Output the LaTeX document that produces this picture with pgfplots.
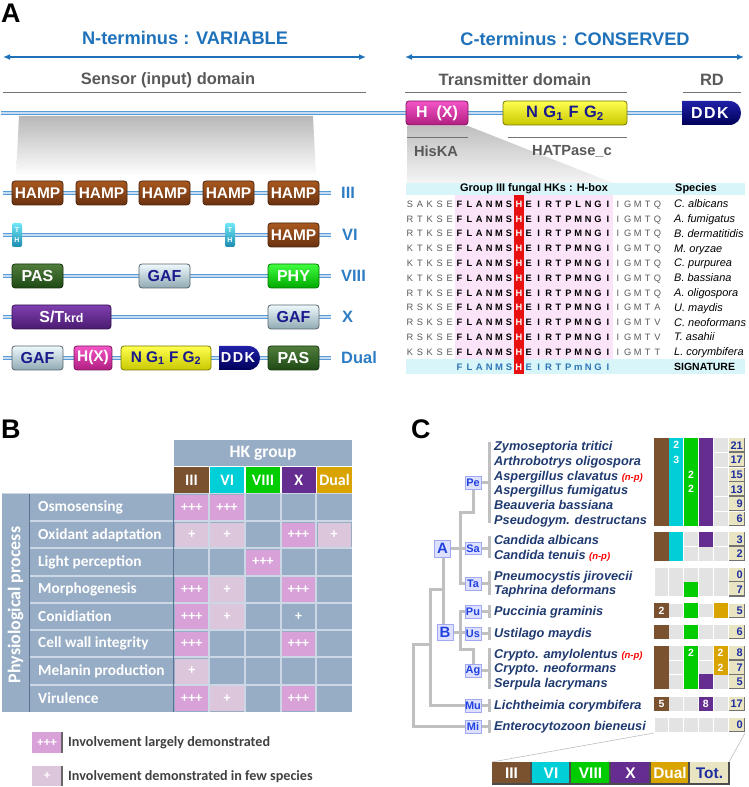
\documentclass[border=0pt]{standalone}
\usepackage{pgfplots}
\pgfplotsset{compat=1.18}
\usetikzlibrary{arrows.meta}
\usepackage{fontspec}
\setmainfont{Liberation Sans}
\newfontfamily\calibri{Carlito}
\newcommand\fs[1]{\fontsize{#1}{#1}\selectfont}
% colours
\definecolor{ablue}{HTML}{1F72BA}
\definecolor{lblue}{HTML}{2E7DC4}
\definecolor{dgray}{HTML}{595959}
\definecolor{bbE}{HTML}{5B9BD5}
\definecolor{bbF}{HTML}{C5DDF2}
\definecolor{hampA}{HTML}{A8581F}\definecolor{hampB}{HTML}{6A3210}
\definecolor{gafA}{HTML}{EEF9FC}\definecolor{gafB}{HTML}{8FA9B3}
\definecolor{pasA}{HTML}{507E3C}\definecolor{pasB}{HTML}{1E4814}
\definecolor{phyA}{HTML}{40FF40}\definecolor{phyB}{HTML}{00A800}
\definecolor{stA}{HTML}{8040B0}\definecolor{stB}{HTML}{4A1A70}
\definecolor{hxA}{HTML}{F455C8}\definecolor{hxB}{HTML}{B01E80}
\definecolor{ngA}{HTML}{FFFF50}\definecolor{ngB}{HTML}{C8C800}
\definecolor{ddkA}{HTML}{2020A8}\definecolor{ddkB}{HTML}{000058}
\definecolor{tmA}{HTML}{70E8F8}\definecolor{tmB}{HTML}{1C8CB0}
\definecolor{navytx}{HTML}{1A1A8C}
\definecolor{tblbg}{HTML}{97ADC5}
\definecolor{tblln}{HTML}{CBD7E4}
\definecolor{tbldk}{HTML}{5A7391}
\definecolor{pkA}{HTML}{D8A2D8}
\definecolor{pkB}{HTML}{DCC6DC}
\definecolor{gIII}{HTML}{7B5230}
\definecolor{gVI}{HTML}{00CFD8}
\definecolor{gVIII}{HTML}{00CC00}
\definecolor{gX}{HTML}{662D91}
\definecolor{gDual}{HTML}{D9A300}
\definecolor{cempty}{HTML}{E3E3E3}
\definecolor{ctot}{HTML}{E9E5C3}
\definecolor{cnavy}{HTML}{1F3A70}
\definecolor{totnum}{HTML}{1E2FA0}
\definecolor{nodeF}{HTML}{DDE1FF}
\definecolor{nodeB}{HTML}{A0A8F0}
\definecolor{nodeT}{HTML}{2040E0}
\definecolor{treeG}{HTML}{C0C0C0}
\definecolor{pinkbg}{HTML}{FBE3F8}
\definecolor{redH}{HTML}{E81010}
\definecolor{cyanb}{HTML}{D8F6FA}
\definecolor{sigblue}{HTML}{2E75B6}
% plot marks
\pgfdeclareplotmark{cellB}{\pgfpathrectangle{\pgfqpoint{-16.6bp}{-12.4bp}}{\pgfqpoint{33.2bp}{24.8bp}}\pgfusepathqfill}
\pgfdeclareplotmark{cellC}{\pgfpathrectangle{\pgfqpoint{-6.9bp}{-6.9bp}}{\pgfqpoint{13.8bp}{13.8bp}}\pgfusepathqfill}
\pgfdeclareplotmark{cellCc}{\pgfpathrectangle{\pgfqpoint{-7.1bp}{-7.4bp}}{\pgfqpoint{14.2bp}{14.8bp}}\pgfusepathqfill}
\pgfdeclareplotmark{totC}{%
  \pgfsetfillcolor{ctot}\pgfpathrectangle{\pgfqpoint{-7.8bp}{-6.9bp}}{\pgfqpoint{15.6bp}{13.8bp}}\pgfusepathqfill
  \pgfsetstrokecolor{black!55}\pgfsetlinewidth{1.3bp}%
  \pgfpathmoveto{\pgfqpoint{7.6bp}{6.9bp}}\pgfpathlineto{\pgfqpoint{7.6bp}{-6.7bp}}\pgfpathlineto{\pgfqpoint{-7.8bp}{-6.7bp}}\pgfusepathqstroke}
% domain box
\newcommand\dom[9]{%
  \shade[top color=#4,bottom color=#5,rounded corners=3bp] (#1,#3-12) rectangle (#2,#3+12);
  \draw[#6,line width=0.8bp,rounded corners=3bp] (#1,#3-12) rectangle (#2,#3+12);
  \node[text=#7,font=\bfseries\fs{#8},inner sep=0pt] at ({(#1+#2)/2},#3) {#9};}
\newcommand\ddk[4]{%
  \shade[top color=ddkA,bottom color=ddkB] (#1,#3-12) -- (#2-15,#3-12) .. controls (#2+1,#3-12) and (#2+1,#3+12) .. (#2-15,#3+12) -- (#1,#3+12) -- cycle;
  \node[text=white,font=\bfseries\fs{#4},inner sep=0pt] at ({(#1+#2)/2-3},#3) {D\kern1.5bp D\kern1.5bp K};}
\newcommand\tm[2]{%
  \shade[top color=tmA,bottom color=tmB,rounded corners=2bp] (#1,#2-12) rectangle (#1+10,#2+12);
  \node[text=white,font=\bfseries\fs{7},inner sep=0pt] at (#1+5,#2-5) {T};
  \node[text=white,font=\bfseries\fs{7},inner sep=0pt] at (#1+5,#2+5) {H};}
\newcommand\bb[3]{\draw[bbE,line width=4bp] (#1,#3)--(#2,#3);\draw[bbF,line width=1.6bp] (#1,#3)--(#2,#3);}

\begin{document}
\begin{tikzpicture}
\useasboundingbox (0,0) rectangle (749bp,787bp);
\clip (0,0) rectangle (749bp,787bp);
% ---------------- backgrounds
\begin{scope}[x=1bp,y=-1bp,shift={(0bp,787bp)}]
 \shade[top color=black!28,bottom color=white] (19,116)--(313,116)--(316,176)--(16,176)--cycle;
 \shade[top color=black!25,bottom color=black!4] (407,126)--(468,126)--(613,183)--(407,183)--cycle;
 \fill[cyanb] (406,183) rectangle (745,195);
 \fill[cyanb] (406,359) rectangle (745,374);
 \fill[pinkbg] (455,195) rectangle (613,359);
 \fill[redH] (514,195) rectangle (524,374);
 \fill[tblbg] (174,440) rectangle (352,466);
 \fill[tblbg] (2,494) rectangle (352,712);
 \foreach \k in {1,...,7} {\draw[tblln,line width=2bp] (30,494+27.25*\k)--(352,494+27.25*\k);}
 \foreach \xx in {209.3,245,281,316.3} {\draw[tblln,line width=2bp] (\xx,494)--(\xx,712);}
 \draw[tbldk,line width=1.6bp] (29.5,494)--(29.5,712);
 \draw[tbldk,line width=1.6bp] (173.5,494)--(173.5,712);
 \draw[tblln,line width=1bp] (2,494)--(352,494);
 \foreach \xa/\xb/\col in {174.3/208.6/gIII,210/244.3/gVI,245.7/280.3/gVIII,281.7/315.6/gX,317/352/gDual}
   {\fill[\col] (\xa,467) rectangle (\xb,493);}
 \draw[black!25,line width=0.6bp] (654,733)--(492,762);
 \draw[black!25,line width=0.6bp] (745,733)--(729,762);
\end{scope}
% ---------------- data drawn through the axis
\begin{axis}[at={(0,0)},anchor=south west,width=749bp,height=787bp,scale only axis,
  xmin=0,xmax=749,ymin=0,ymax=787,y dir=reverse,hide axis,clip=false]
 \addplot[only marks,mark=cellB,color=pkA,nodes near coords,point meta=explicit symbolic,
   every node near coord/.append style={anchor=center,text=white,font=\calibri\bfseries\fs{14}}]
   coordinates {(191.8,507.6)[+++] (227,507.6)[+++] (298.5,534.9)[+++] (263,562.1)[+++]
   (191.8,589.4)[+++] (298.5,589.4)[+++] (191.8,616.6)[+++] (191.8,643.9)[+++] (298.5,643.9)[+++]
   (191.8,698.4)[+++] (298.5,698.4)[+++]};
 \addplot[only marks,mark=cellB,color=pkB,nodes near coords,point meta=explicit symbolic,
   every node near coord/.append style={anchor=center,text=white,font=\calibri\bfseries\fs{14}}]
   coordinates {(191.8,534.9)[+] (227,534.9)[+] (334.2,534.9)[+] (227,589.4)[+] (227,616.6)[+]
   (191.8,671.1)[+] (227,698.4)[+]};
 \addplot[draw=none,nodes near coords,point meta=explicit symbolic,
   every node near coord/.append style={anchor=center,text=white,font=\calibri\bfseries\fs{14}}]
   coordinates {(298.5,616.6)[+]};
 % Panel C : empty cells
 \addplot[only marks,mark=cellC,color=cempty] coordinates {
  (720.6,445.3)(720.6,460)(720.6,474.7)(720.6,489.3)(720.6,504)(720.6,518.7)
  (691,539.3)(720.6,539.3)(691,553.9)(705.8,553.9)(720.6,553.9)
  (661.4,575)(676.2,575)(691,575)(705.8,575)(720.6,575)
  (661.4,589.3)(676.2,589.3)(705.8,589.3)(720.6,589.3)
  (676.2,610.5)(705.8,610.5)
  (676.2,632)(705.8,632)(720.6,632)
  (676.2,653.2)(705.8,653.2)(676.2,667.5)(705.8,667.5)(676.2,681.8)(720.6,681.8)
  (676.2,704)(691,704)(720.6,704)
  (661.4,725)(676.2,725)(691,725)(705.8,725)(720.6,725)};
 \addplot[only marks,mark=cellCc,color=gIII] coordinates {
  (661.4,445.3)(661.4,460)(661.4,474.7)(661.4,489.3)(661.4,504)(661.4,518.7)
  (661.4,539.3)(661.4,553.9)(661.4,610.5)(661.4,632)(661.4,653.2)(661.4,667.5)(661.4,681.8)(661.4,704)};
 \addplot[only marks,mark=cellCc,color=gVI] coordinates {
  (676.2,445.3)(676.2,460)(676.2,474.7)(676.2,489.3)(676.2,504)(676.2,518.7)(676.2,539.3)(676.2,553.9)};
 \addplot[only marks,mark=cellCc,color=gVIII] coordinates {
  (691,445.3)(691,460)(691,474.7)(691,489.3)(691,504)(691,518.7)
  (691,589.3)(691,610.5)(691,632)(691,653.2)(691,667.5)(691,681.8)};
 \addplot[only marks,mark=cellCc,color=gX] coordinates {
  (705.8,445.3)(705.8,460)(705.8,474.7)(705.8,489.3)(705.8,504)(705.8,518.7)
  (705.8,539.3)(705.8,681.8)(705.8,704)};
 \addplot[only marks,mark=cellCc,color=gDual] coordinates {(720.6,610.5)(720.6,653.2)(720.6,667.5)};
 \addplot[draw=none,nodes near coords,point meta=explicit symbolic,
   every node near coord/.append style={anchor=center,text=white,font=\bfseries\fs{10.5}}]
   coordinates {(676.2,445.3)[2] (676.2,460)[3] (691,474.7)[2] (691,489.3)[2] (661.4,610.5)[2]
   (691,653.2)[2] (720.6,653.2)[2] (720.6,667.5)[2] (661.4,704)[5] (705.8,704)[8]};
 \addplot[only marks,mark=totC,color=ctot] coordinates {
  (736.8,445.3)(736.8,460)(736.8,474.7)(736.8,489.3)(736.8,504)(736.8,518.7)(736.8,539.3)(736.8,553.9)
  (736.8,575)(736.8,589.3)(736.8,610.5)(736.8,632)(736.8,653.2)(736.8,667.5)(736.8,681.8)(736.8,704)(736.8,725)};
 \addplot[draw=none,nodes near coords,point meta=explicit symbolic,
   every node near coord/.append style={anchor=east,text=totnum,font=\bfseries\fs{11},inner sep=0pt}]
   coordinates {(743,445.3)[21] (743,460)[17] (743,474.7)[15] (743,489.3)[13] (743,504)[9] (743,518.7)[6]
   (743,539.3)[3] (743,553.9)[2] (743,575)[0] (743,589.3)[7] (743,610.5)[5] (743,632)[6]
   (743,653.2)[8] (743,667.5)[7] (743,681.8)[5] (743,704)[17] (743,725)[0]};
\end{axis}
% ---------------- foreground drawing and text
\begin{scope}[x=1bp,y=-1bp,shift={(0bp,787bp)}]
 \node[anchor=base west,font=\bfseries\fs{27},inner sep=0pt] at (1,23) {A};
 \node[anchor=base west,font=\bfseries\fs{27},inner sep=0pt] at (1,439) {B};
 \node[anchor=base west,font=\bfseries\fs{27},inner sep=0pt] at (411,439) {C};
 % ===== Panel A top
 \node[text=ablue,font=\bfseries\fs{18.3}] at (185,38) {N-terminus : VARIABLE};
 \node[text=ablue,font=\bfseries\fs{18.3}] at (575,39) {C-terminus : CONSERVED};
 \draw[ablue,line width=1.6bp,{Latex[length=7bp,width=6bp]}-{Latex[length=7bp,width=6bp]}] (3,57)--(366,57);
 \draw[ablue,line width=1.6bp,{Latex[length=7bp,width=6bp]}-{Latex[length=7bp,width=6bp]}] (405,57)--(744,57);
 \node[text=dgray,font=\bfseries\fs{16.5}] at (168,80) {Sensor (input) domain};
 \node[text=dgray,font=\bfseries\fs{16.5}] at (515,80) {Transmitter domain};
 \node[text=dgray,font=\bfseries\fs{16.5}] at (712,80) {RD};
 \draw[black!55,line width=0.9bp] (3,92)--(366,92);
 \draw[black!55,line width=0.9bp] (405,92)--(627,92);
 \draw[black!55,line width=0.9bp] (683,92)--(741,92);
 \bb{1}{690}{113}
 \dom{406}{468}{113}{hxA}{hxB}{hxB!70!black}{white}{16}{H\hspace{9bp}(X)}
 \dom{503}{627}{113}{ngA}{ngB}{ngB!60!black}{navytx}{16.5}{N\,\,G\textsubscript{1}\,\,F\,\,G\textsubscript{2}}
 \ddk{682}{744}{113}{16}
 \draw[black!55,line width=0.9bp] (407,137)--(468,137);
 \draw[black!55,line width=0.9bp] (508,137)--(627,137);
 \node[text=dgray,font=\bfseries\fs{14.7}] at (436,151) {HisKA};
 \node[text=dgray,font=\bfseries\fs{14.7}] at (572,151) {HATPase\_c};
 % ===== Panel A domain rows
 \bb{3}{331}{193}
 \dom{12}{63}{193}{hampA}{hampB}{hampB!70!black}{white}{15.5}{HAMP}
 \dom{76}{127}{193}{hampA}{hampB}{hampB!70!black}{white}{15.5}{HAMP}
 \dom{139}{190}{193}{hampA}{hampB}{hampB!70!black}{white}{15.5}{HAMP}
 \dom{203}{254}{193}{hampA}{hampB}{hampB!70!black}{white}{15.5}{HAMP}
 \dom{268}{319}{193}{hampA}{hampB}{hampB!70!black}{white}{15.5}{HAMP}
 \node[anchor=west,text=lblue,font=\bfseries\fs{16.5},inner sep=0pt] at (341,193) {III};
 \bb{3}{331}{235}
 \tm{12}{235}
 \tm{225}{235}
 \dom{268}{319}{235}{hampA}{hampB}{hampB!70!black}{white}{15.5}{HAMP}
 \node[anchor=west,text=lblue,font=\bfseries\fs{16.5},inner sep=0pt] at (342,235) {VI};
 \bb{3}{331}{276}
 \dom{12}{63}{276}{pasA}{pasB}{pasB!70!black}{white}{16}{PAS}
 \dom{139}{190}{276}{gafA}{gafB}{gafB!60!black}{navytx}{16}{GAF}
 \dom{268}{319}{276}{phyA}{phyB}{phyB!70!black}{white}{16}{PHY}
 \node[anchor=west,text=lblue,font=\bfseries\fs{16.5},inner sep=0pt] at (341,276) {VIII};
 \bb{3}{331}{317}
 \dom{12}{111}{317}{stA}{stB}{stB!70!black}{white}{16}{S/T{\fs{12.5}krd}}
 \dom{268}{319}{317}{gafA}{gafB}{gafB!60!black}{navytx}{16}{GAF}
 \node[anchor=west,text=lblue,font=\bfseries\fs{16.5},inner sep=0pt] at (342,317) {X};
 \bb{3}{331}{358}
 \dom{12}{63}{358}{gafA}{gafB}{gafB!60!black}{navytx}{16}{GAF}
 \dom{74}{112}{358}{hxA}{hxB}{hxB!70!black}{white}{15.5}{H(X)}
 \dom{121}{211}{358}{ngA}{ngB}{ngB!60!black}{navytx}{15.5}{N G\textsubscript{1} F G\textsubscript{2}}
 \ddk{219}{263}{358}{14.5}
 \dom{268}{319}{358}{pasA}{pasB}{pasB!70!black}{white}{16}{PAS}
 \node[anchor=west,text=lblue,font=\bfseries\fs{16.5},inner sep=0pt] at (341,358) {Dual};
 % ===== alignment
 \node[font=\bfseries\fs{11}] at (534,189) {Group III fungal HKs : H-box};
 \node[anchor=west,font=\bfseries\fs{11},inner sep=0pt] at (675,189) {Species};
 \foreach \pre/\core/\suf/\sp [count=\r from 0] in {
  {S,A,K,S,E}/{F,L,A,N,M,S,H,E,I,R,T,P,L,N,G,I}/{I,G,M,T,Q}/{C. albicans},
  {R,T,K,S,E}/{F,L,A,N,M,S,H,E,I,R,T,P,M,N,G,I}/{I,G,M,T,Q}/{A. fumigatus},
  {R,T,K,S,E}/{F,L,A,N,M,S,H,E,I,R,T,P,M,N,G,I}/{I,G,M,T,Q}/{B. dermatitidis},
  {K,T,K,S,E}/{F,L,A,N,M,S,H,E,I,R,T,P,M,N,G,I}/{I,G,M,T,Q}/{M. oryzae},
  {K,T,K,S,E}/{F,L,A,N,M,S,H,E,I,R,T,P,M,N,G,I}/{I,G,M,T,Q}/{C. purpurea},
  {K,T,K,S,E}/{F,L,A,N,M,S,H,E,I,R,T,P,M,N,G,I}/{I,G,M,T,Q}/{B. bassiana},
  {R,T,K,S,E}/{F,L,A,N,M,S,H,E,I,R,T,P,M,N,G,I}/{I,G,M,T,Q}/{A. oligospora},
  {R,S,K,S,E}/{F,L,A,N,M,S,H,E,I,R,T,P,M,N,G,I}/{I,G,M,T,A}/{U. maydis},
  {R,S,K,S,E}/{F,L,A,N,M,S,H,E,I,R,T,P,M,N,G,I}/{I,G,M,T,V}/{C. neoformans},
  {R,S,K,S,E}/{F,L,A,N,M,S,H,E,I,R,T,P,M,N,G,I}/{I,G,M,T,V}/{T. asahii},
  {K,S,K,S,E}/{F,L,A,N,M,S,H,E,I,R,T,P,M,N,G,I}/{I,G,M,T,T}/{L. corymbifera}}{
   \pgfmathsetmacro\yy{204+14.8*\r}
   \foreach \c [count=\i from 0] in \pre {\node[anchor=base,text=black!65,font=\fs{9.3},inner sep=0pt] at (410+9.9*\i,\yy+3.4) {\c};}
   \foreach \c [count=\i from 5] in \core {\node[anchor=base,font=\bfseries\fs{9.3},inner sep=0pt] at (410+9.9*\i,\yy+3.4) {\ifnum\i=11 \color{white}\fi\c};}
   \foreach \c [count=\i from 21] in \suf {\node[anchor=base,text=black!65,font=\fs{9.3},inner sep=0pt] at (410+9.9*\i,\yy+3.4) {\c};}
   \node[anchor=base west,font=\itshape\fs{11},inner sep=0pt] at (674,\yy+3.8) {\sp};
 }
 \foreach \c [count=\i from 5] in {F,L,A,N,M,S,H,E,I,R,T,P,m,N,G,I}
   {\node[anchor=base,text=sigblue,font=\bfseries\fs{9.5},inner sep=0pt] at (410+9.9*\i,370.2) {\ifnum\i=11 \color{white}\fi\c};}
 \node[anchor=base west,font=\bfseries\fs{10.5},inner sep=0pt] at (674,370.6) {SIGNATURE};
 % ===== Panel B text
 \node[text=white,font=\calibri\bfseries\fs{17.5}] at (263,453) {HK group};
 \foreach \xc/\t in {191.5/III,227.2/VI,263/VIII,298.7/X,334.5/Dual}
   {\node[text=white,font=\calibri\bfseries\fs{16}] at (\xc,480) {\t};}
 \node[rotate=90,text=white,font=\calibri\bfseries\fs{18}] at (15.5,605) {Physiological process};
 \foreach \t [count=\k from 0] in {Osmosensing,Oxidant adaptation,Light perception,Morphogenesis,Conidiation,Cell wall integrity,Melanin production,Virulence}
   {\node[anchor=west,text=white,font=\calibri\bfseries\fs{15.4},inner sep=0pt] at (38,507.6+27.25*\k) {\t};}
 \fill[pkA] (32,732) rectangle (62,753);
 \draw[black!60,line width=1.2bp] (62,732)--(62,753);
 \node[text=white,font=\calibri\bfseries\fs{13}] at (47,742.5) {+++};
 \node[anchor=west,text=black!75,font=\calibri\bfseries\fs{14.2},inner sep=0pt] at (68,743) {Involvement largely demonstrated};
 \fill[pkB] (32,766) rectangle (62,786);
 \draw[black!60,line width=1.2bp] (62,766)--(62,786);
 \node[text=white,font=\calibri\bfseries\fs{13}] at (47,776) {+};
 \node[anchor=west,text=black!75,font=\calibri\bfseries\fs{14.2},inner sep=0pt] at (68,777) {Involvement demonstrated in few species};
 % ===== Panel C tree
 \begin{scope}[treeG,line width=3bp]
  \draw (473,489)--(473,513)--(460,513)--(460,584)--(465,584);
  \draw (450,548.5)--(465,548.5);
  \draw (443,557)--(443,625);
  \draw (443,590)--(430,590)--(430,706)--(465,706);
  \draw (430,645)--(413,645)--(413,727)--(465,727);
  \draw (465,612)--(460,612)--(460,650)--(473,650)--(473,665);
  \draw (453,632.5)--(465,632.5);
  \draw (481,483)--(489,483); \draw (489,442)--(489,523);
  \draw (481,548.5)--(489,548.5); \draw (489,536)--(489,558);
  \draw (481,584)--(489,584); \draw (489,571)--(489,595);
  \draw (481,612)--(489,612); \draw (489,605)--(489,618);
  \draw (481,634)--(489,634); \draw (489,627)--(489,640);
  \draw (481,671)--(489,671); \draw (489,648)--(489,689);
  \draw (481,706)--(489,706); \draw (489,699)--(489,712);
  \draw (481,727)--(489,727); \draw (489,720)--(489,733);
 \end{scope}
 \foreach \yc/\t in {483/Pe,548.5/Sa,584/Ta,612/Pu,634/Us,671/Ag,706/Mu,727/Mi}
   {\node[draw=nodeB,fill=nodeF,text=nodeT,font=\bfseries\fs{11},minimum width=16bp,minimum height=12.5bp,inner sep=0pt,line width=0.8bp] at (473,\yc) {\t};}
 \node[draw=nodeB,fill=nodeF,text=nodeT,font=\bfseries\fs{15},minimum width=16bp,minimum height=17bp,inner sep=0pt,line width=0.8bp] at (442.5,548.5) {A};
 \node[draw=nodeB,fill=nodeF,text=nodeT,font=\bfseries\fs{15},minimum width=16bp,minimum height=16bp,inner sep=0pt,line width=0.8bp] at (445,632.5) {B};
 \foreach \yc/\t in {
   445.3/{Zymoseptoria tritici},
   460/{Arthrobotrys oligospora},
   474.7/{Aspergillus clavatus \textcolor{red}{\fs{9.5}(n-p)}},
   489.3/{Aspergillus fumigatus},
   504/{Beauveria bassiana},
   518.7/{Pseudogym. destructans},
   539.3/{Candida albicans},
   553.9/{Candida tenuis \textcolor{red}{\fs{9.5}(n-p)}},
   575/{Pneumocystis jirovecii},
   589.3/{Taphrina deformans},
   610.5/{Puccinia graminis},
   632/{Ustilago maydis},
   653.2/{Crypto. amylolentus \textcolor{red}{\fs{9.5}(n-p)}},
   667.5/{Crypto. neoformans},
   681.8/{Serpula lacrymans},
   704/{Lichtheimia corymbifera},
   725/{Enterocytozoon bieneusi}}
   {\node[anchor=base west,text=cnavy,font=\bfseries\itshape\fs{12.8},inner sep=0pt] at (494,\yc+5.5) {\t};}
 \foreach \xa/\xb/\col/\t/\tc in {492/531/gIII/III/white,532/570/gVI/VI/white,571/610/gVIII/VIII/white,611/650/gX/X/white,651/689/gDual/Dual/white,690/729/ctot/Tot./totnum}
   {\fill[\col] (\xa,762) rectangle (\xb,784);
    \draw[black!70,line width=1.3bp] (\xb,762)--(\xb,784)--(\xa,784);
    \node[text=\tc,font=\bfseries\fs{15.5}] at ({(\xa+\xb)/2},773) {\t};}
\end{scope}
\end{tikzpicture}
\end{document}
